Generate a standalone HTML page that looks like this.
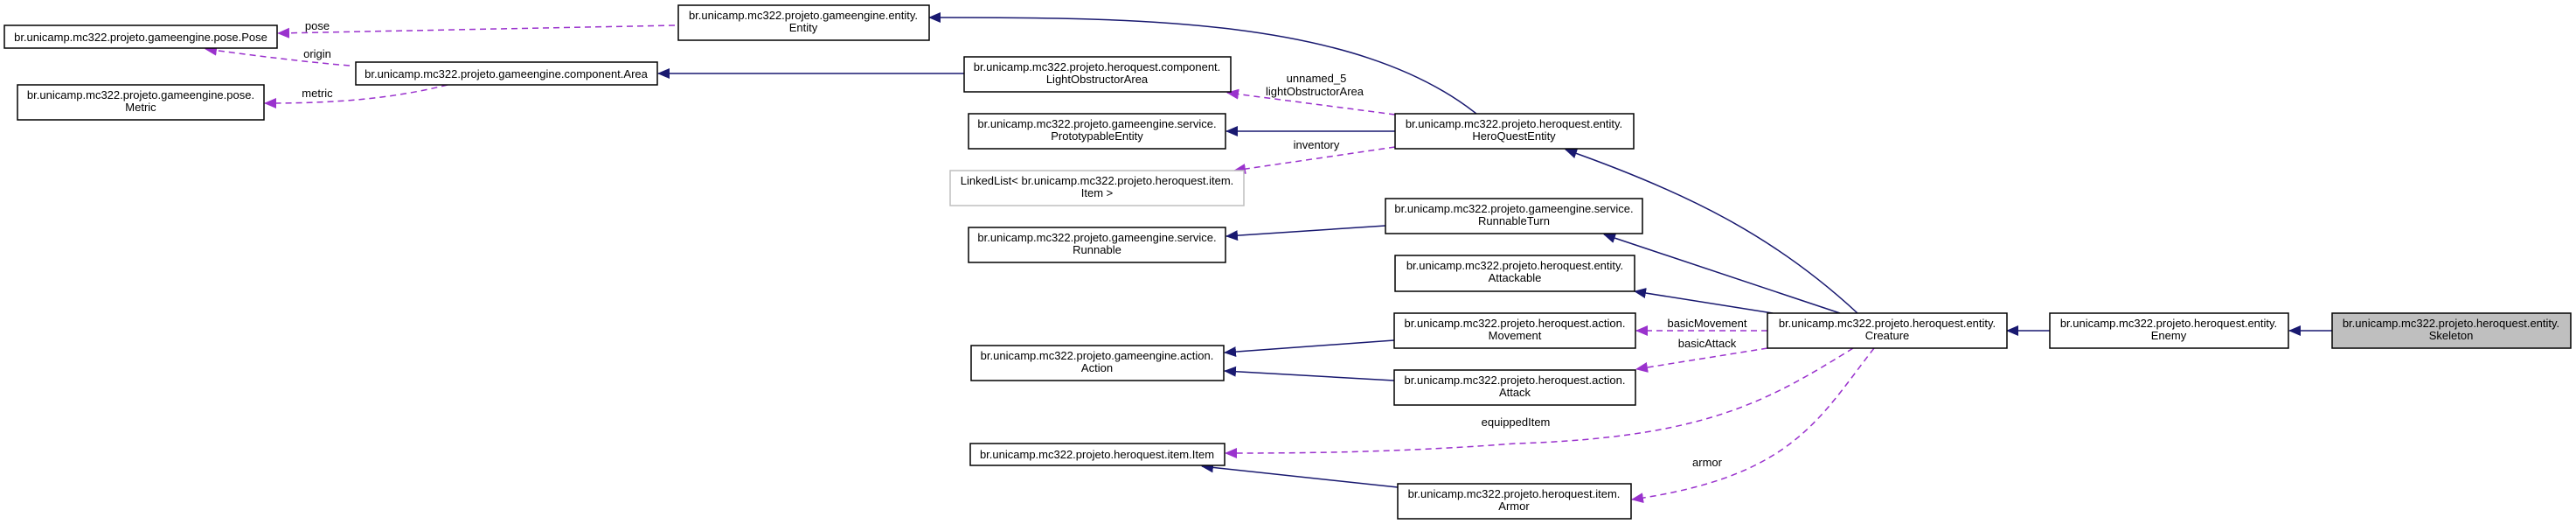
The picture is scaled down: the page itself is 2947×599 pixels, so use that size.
<!DOCTYPE html>
<html><head><meta charset="utf-8"><style>
html,body{margin:0;padding:0;background:#fff;}
svg{display:block;}
text{font-family:"Liberation Sans",sans-serif;font-size:13px;fill:#000;}
</style></head><body>
<svg width="2947" height="599" viewBox="0 0 2947 599" xmlns="http://www.w3.org/2000/svg">
<defs>
<marker id="an" markerWidth="14" markerHeight="12" refX="13" refY="6" orient="auto" markerUnits="userSpaceOnUse"><path d="M0,0 L14,6 L0,12 z" fill="#191970"/></marker>
<marker id="ap" markerWidth="14" markerHeight="12" refX="13" refY="6" orient="auto" markerUnits="userSpaceOnUse"><path d="M0,0 L14,6 L0,12 z" fill="#9a32cd"/></marker>
</defs>
<g fill="none" stroke-width="1.5">
<g stroke="#191970" marker-end="url(#an)">
<path d="M2668,378 L2619,378"/>
<path d="M2345,378 L2296,378"/>
<path d="M2125,358 C2030,270 1930,220 1791,171"/>
<path d="M2105,358 L1835,268"/>
<path d="M2028,358 L1870,333"/>
<path d="M1689,130 C1550,20 1300,20 1063,20"/>
<path d="M1596,150 L1403,150"/>
<path d="M1585,258 L1403,270"/>
<path d="M1103,84 L753,84"/>
<path d="M1595,389 L1401,403"/>
<path d="M1595,435 L1401,424"/>
<path d="M1599,557 L1375,533"/>
</g>
<g stroke="#9a32cd" stroke-dasharray="7,5" marker-end="url(#ap)">
<path d="M772,29 L318,38"/>
<path d="M400,75 C340,70 280,62 235,56"/>
<path d="M512,97 C440,115 370,118 303,118"/>
<path d="M1596,131 L1404,106"/>
<path d="M1596,168 L1412,195"/>
<path d="M2022,378 L1872,378"/>
<path d="M2022,398 L1872,422"/>
<path d="M2120,398 C2020,460 1950,500 1734,507 C1600,517 1500,518 1402,518"/>
<path d="M2144,398 C2080,480 2050,545 1867,571"/>
</g>
</g>
<g text-anchor="middle">
<text x="363" y="34">pose</text>
<text x="363" y="66">origin</text>
<text x="363" y="111">metric</text>
<text x="1506" y="94">unnamed_5</text>
<text x="1504" y="109">lightObstructorArea</text>
<text x="1506" y="170">inventory</text>
<text x="1953" y="374">basicMovement</text>
<text x="1953" y="397">basicAttack</text>
<text x="1734" y="487">equippedItem</text>
<text x="1953" y="533">armor</text>
</g>
<g stroke="#000" stroke-width="1.5" fill="#fff">
<rect x="5" y="29" width="312" height="26"/>
<rect x="20" y="97" width="282" height="40"/>
<rect x="407" y="71" width="345" height="26"/>
<rect x="776" y="6" width="287" height="40"/>
<rect x="1103" y="65" width="305" height="40"/>
<rect x="1108" y="130" width="294" height="40"/>
<rect x="1087" y="195" width="336" height="40" stroke="#bfbfbf"/>
<rect x="1108" y="260" width="294" height="40"/>
<rect x="1111" y="395" width="289" height="40"/>
<rect x="1110" y="507" width="291" height="25"/>
<rect x="1596" y="130" width="273" height="40"/>
<rect x="1585" y="227" width="294" height="40"/>
<rect x="1596" y="292" width="274" height="41"/>
<rect x="1595" y="358" width="276" height="40"/>
<rect x="1595" y="423" width="276" height="40"/>
<rect x="1599" y="553" width="267" height="40"/>
<rect x="2022" y="358" width="274" height="40"/>
<rect x="2345" y="358" width="273" height="40"/>
<rect x="2668" y="358" width="273" height="40" fill="#bfbfbf"/>
</g>
<g text-anchor="middle">
<text x="161" y="47">br.unicamp.mc322.projeto.gameengine.pose.Pose</text>
<text x="161" y="113">br.unicamp.mc322.projeto.gameengine.pose.</text><text x="161" y="127">Metric</text>
<text x="579" y="89">br.unicamp.mc322.projeto.gameengine.component.Area</text>
<text x="919" y="22">br.unicamp.mc322.projeto.gameengine.entity.</text><text x="919" y="36">Entity</text>
<text x="1255" y="81">br.unicamp.mc322.projeto.heroquest.component.</text><text x="1255" y="95">LightObstructorArea</text>
<text x="1255" y="146">br.unicamp.mc322.projeto.gameengine.service.</text><text x="1255" y="160">PrototypableEntity</text>
<text x="1255" y="211">LinkedList&lt; br.unicamp.mc322.projeto.heroquest.item.</text><text x="1255" y="225">Item &gt;</text>
<text x="1255" y="276">br.unicamp.mc322.projeto.gameengine.service.</text><text x="1255" y="290">Runnable</text>
<text x="1255" y="411">br.unicamp.mc322.projeto.gameengine.action.</text><text x="1255" y="425">Action</text>
<text x="1255" y="524">br.unicamp.mc322.projeto.heroquest.item.Item</text>
<text x="1732" y="146">br.unicamp.mc322.projeto.heroquest.entity.</text><text x="1732" y="160">HeroQuestEntity</text>
<text x="1732" y="243">br.unicamp.mc322.projeto.gameengine.service.</text><text x="1732" y="257">RunnableTurn</text>
<text x="1733" y="308">br.unicamp.mc322.projeto.heroquest.entity.</text><text x="1733" y="322">Attackable</text>
<text x="1733" y="374">br.unicamp.mc322.projeto.heroquest.action.</text><text x="1733" y="388">Movement</text>
<text x="1733" y="439">br.unicamp.mc322.projeto.heroquest.action.</text><text x="1733" y="453">Attack</text>
<text x="1732" y="569">br.unicamp.mc322.projeto.heroquest.item.</text><text x="1732" y="583">Armor</text>
<text x="2159" y="374">br.unicamp.mc322.projeto.heroquest.entity.</text><text x="2159" y="388">Creature</text>
<text x="2481" y="374">br.unicamp.mc322.projeto.heroquest.entity.</text><text x="2481" y="388">Enemy</text>
<text x="2804" y="374">br.unicamp.mc322.projeto.heroquest.entity.</text><text x="2804" y="388">Skeleton</text>
</g>
</svg>
</body></html>
